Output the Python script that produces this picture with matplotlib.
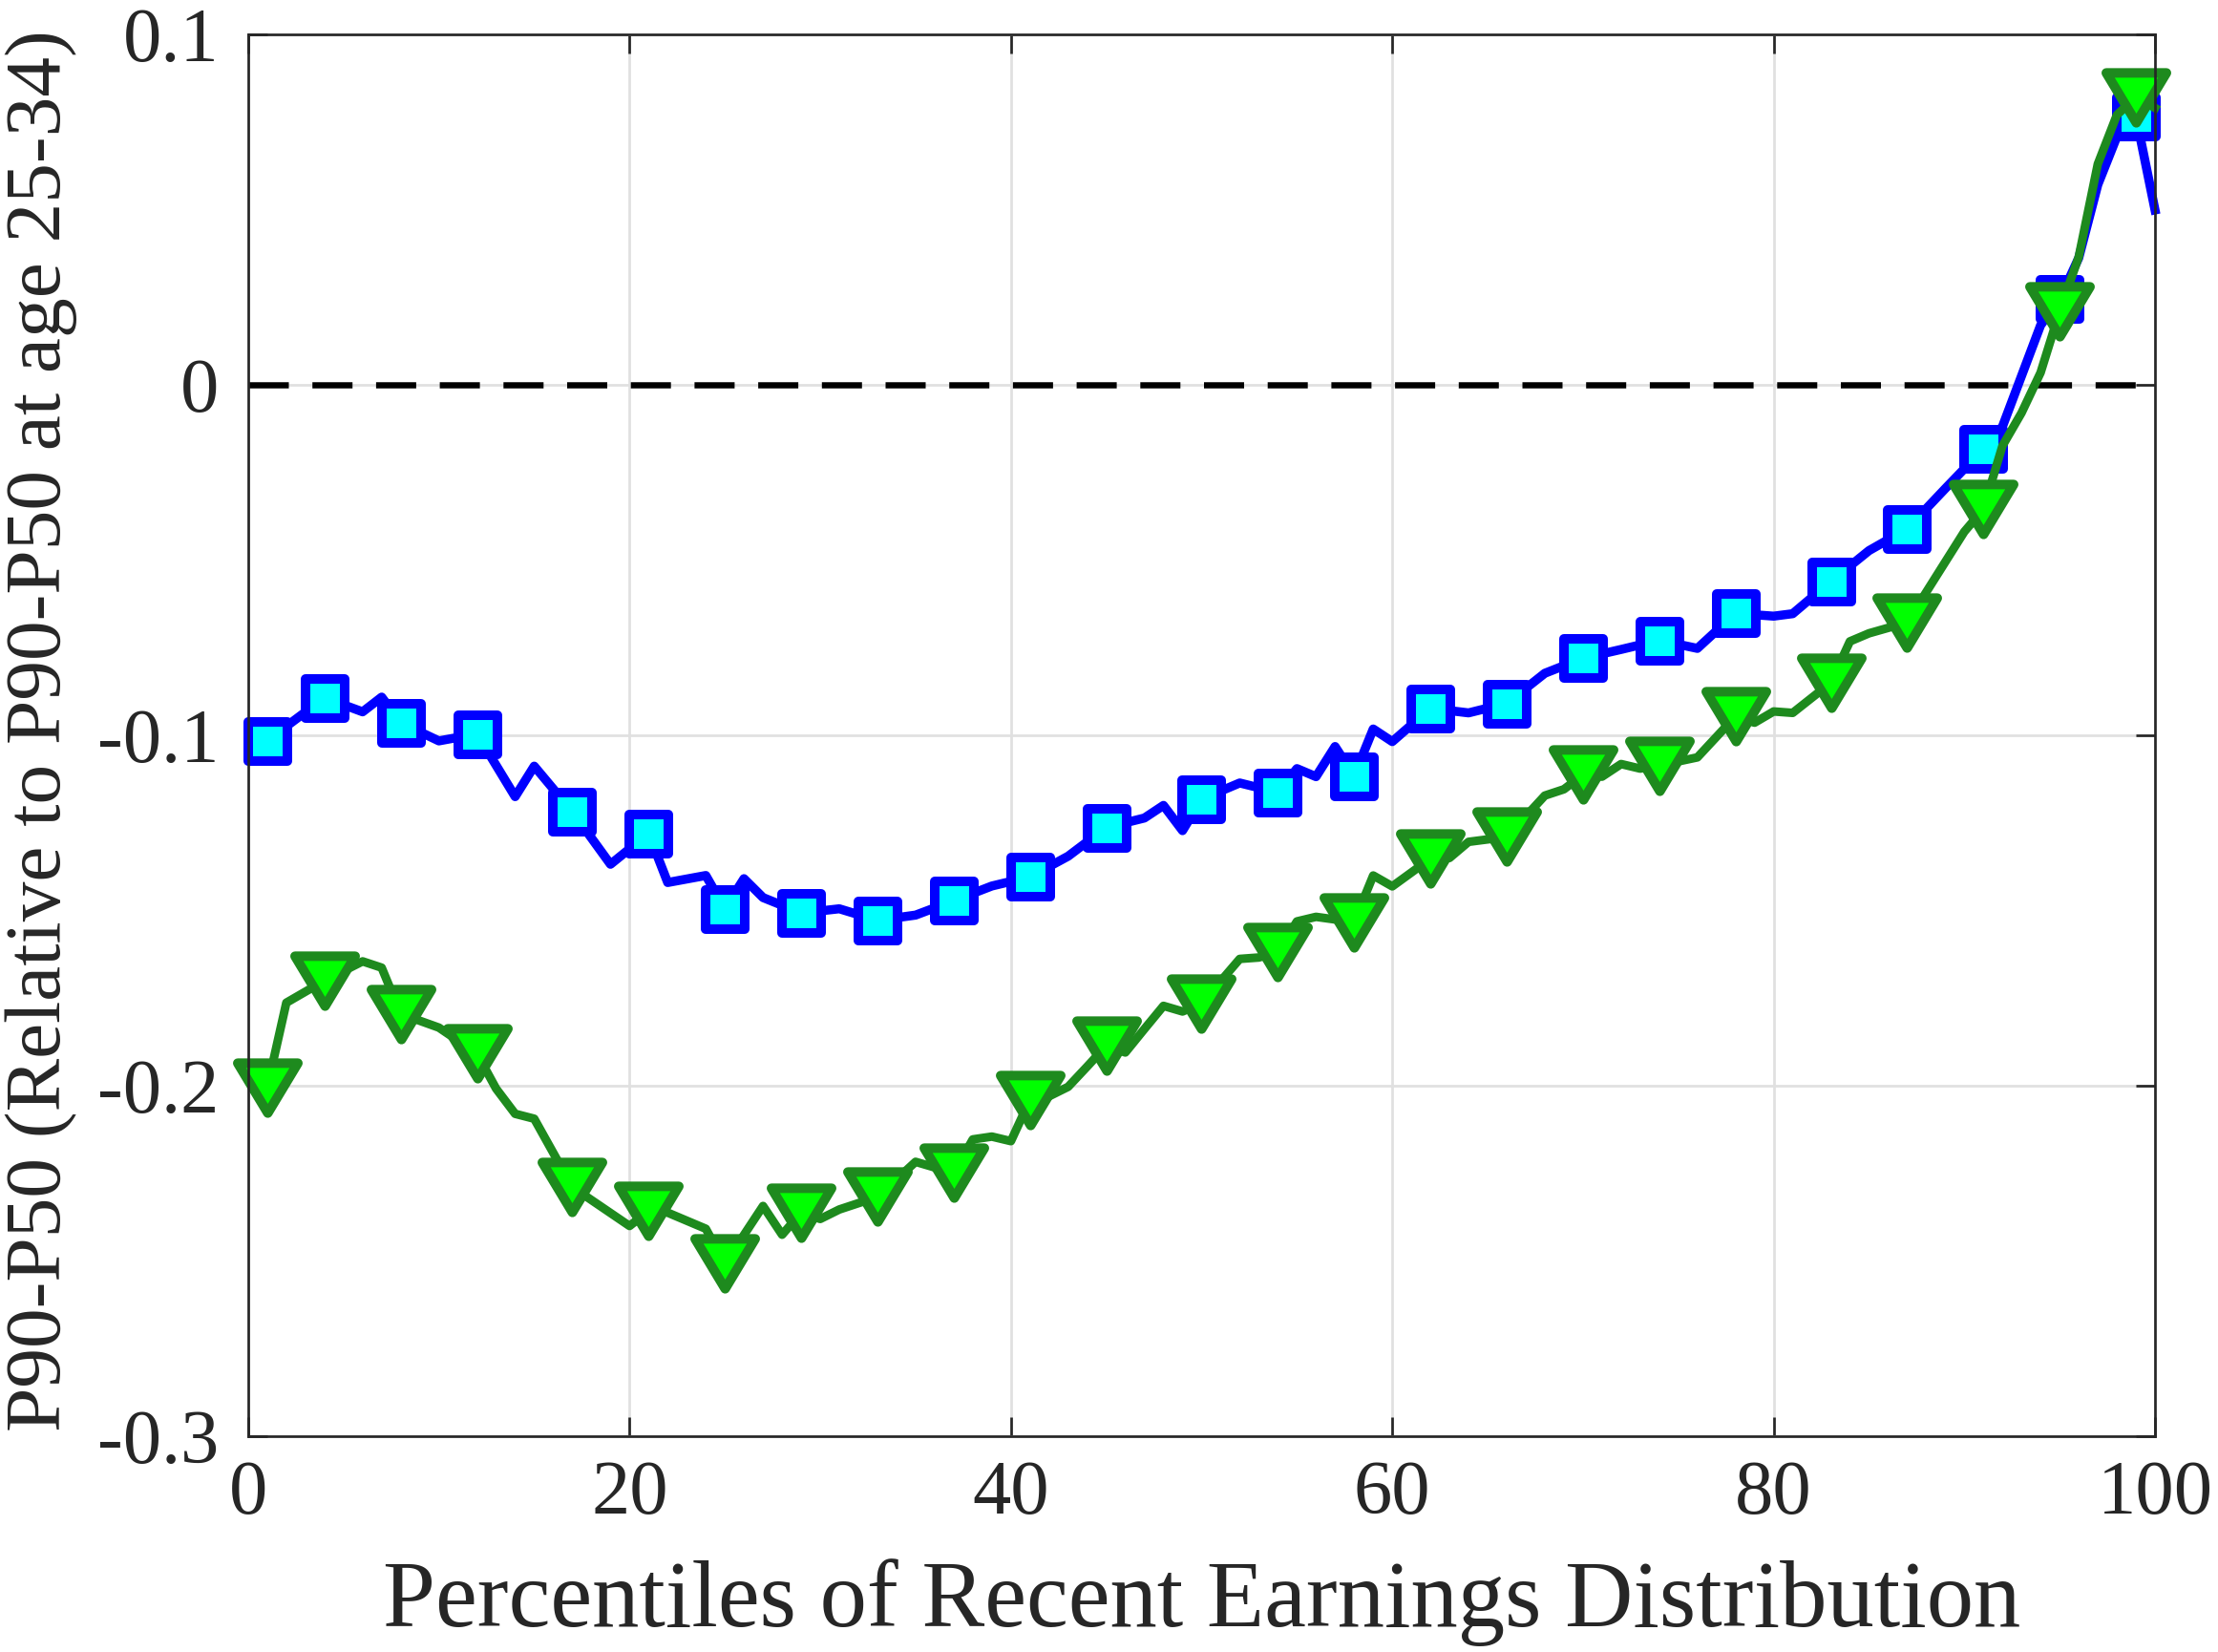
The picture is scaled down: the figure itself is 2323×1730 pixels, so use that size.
import matplotlib
matplotlib.use("Agg")
import matplotlib.pyplot as plt
from matplotlib.markers import MarkerStyle
from matplotlib.path import Path

# percentile positions where the lines bend
blue_x = [1, 4, 6, 7, 8, 10, 12, 14, 15, 17, 19, 21, 22, 24, 25, 26, 27, 29, 31,
          33, 35, 37, 39, 41, 43, 45, 47, 48, 49, 50, 52, 54, 55, 56, 57, 58, 59,
          60, 62, 64, 66, 68, 70, 72, 74, 76, 78, 80, 81, 83, 85, 87, 89, 91, 92,
          94, 95, 96, 97, 98, 99, 100]
blue_y = [-0.1015, -0.0893, -0.0933, -0.0891, -0.0964, -0.1016, -0.0996, -0.1175,
          -0.1088, -0.1218, -0.1368, -0.1280, -0.1420, -0.1400, -0.1495, -0.1409,
          -0.1463, -0.1507, -0.1495, -0.1528, -0.1513, -0.1472, -0.1430, -0.1404,
          -0.1345, -0.1263, -0.1236, -0.1200, -0.1272, -0.1182, -0.1136, -0.1163,
          -0.1095, -0.1118, -0.1032, -0.1116, -0.0982, -0.1018, -0.0923, -0.0936,
          -0.0909, -0.0823, -0.0780, -0.0755, -0.0729, -0.0752, -0.0652, -0.0660,
          -0.0653, -0.0561, -0.0473, -0.0411, -0.0296, -0.0183, -0.0119, 0.0170,
          0.0244, 0.0362, 0.0571, 0.0708, 0.0766, 0.0499]

green_x = [1, 2, 4, 6, 7, 8, 10, 12, 13, 14, 15, 17, 20, 21, 22, 24, 25, 27, 28,
           29, 30, 31, 33, 35, 37, 38, 39, 40, 41, 42, 43, 44, 45, 46, 47, 48, 49,
           50, 52, 53, 54, 55, 56, 58, 59, 60, 62, 63, 64, 66, 68, 69, 70, 71, 72,
           73, 74, 76, 78, 79, 80, 81, 83, 84, 85, 87, 90, 91, 92, 93, 94, 95, 96,
           97, 98, 99, 100]
green_y = [-0.2005, -0.1763, -0.1700, -0.1645, -0.1663, -0.1795, -0.1834, -0.1908,
           -0.2008, -0.2080, -0.2094, -0.2289, -0.2400, -0.2357, -0.2362, -0.2408,
           -0.2508, -0.2343, -0.2425, -0.2362, -0.2380, -0.2353, -0.2317, -0.2217,
           -0.2249, -0.2153, -0.2145, -0.2158, -0.2040, -0.2030, -0.2003, -0.1945,
           -0.1886, -0.1905, -0.1838, -0.1772, -0.1788, -0.1765, -0.1638, -0.1634,
           -0.1619, -0.1531, -0.1518, -0.1533, -0.1400, -0.1431, -0.1352, -0.1350,
           -0.1304, -0.1290, -0.1172, -0.1154, -0.1113, -0.1118, -0.1082, -0.1095,
           -0.1086, -0.1063, -0.0946, -0.0964, -0.0932, -0.0936, -0.0850, -0.0732,
           -0.0709, -0.0678, -0.0419, -0.0355, -0.0174, -0.0080, 0.0035, 0.0210,
           0.0365, 0.0630, 0.0770, 0.0821, 0.0790]

# percentiles that carry a marker
marker_x = [1, 4, 8, 12, 17, 21, 25, 29, 33, 37, 41, 45, 50, 54, 58, 62, 66, 70,
            74, 78, 83, 87, 91, 95, 99]

x_ticks = [0, 20, 40, 60, 80, 100]
y_ticks = [-0.3, -0.2, -0.1, 0, 0.1]
y_tick_labels = ["-0.3", "-0.2", "-0.1", "0", "0.1"]

plt.rcParams['font.family'] = ['Liberation Serif', 'DejaVu Serif']
plt.rcParams['axes.unicode_minus'] = False
plt.rcParams['lines.scale_dashes'] = False

PX = 0.72  # points per pixel at dpi 100
txt = '#262626'

fig = plt.figure(figsize=(23.23, 17.30), dpi=100)
ax = fig.add_axes([0.1119, 0.1306, 0.8597, 0.8486])

ax.plot([0, 100], [0, 0], color='black', lw=6.5 * PX,
        dashes=(42 * PX, 24.7 * PX), dash_capstyle='butt', zorder=2)

sq = MarkerStyle('s', joinstyle='round')
tri = MarkerStyle(Path([(-1, 0.83), (1, 0.83), (0, -0.83), (-1, 0.83)],
                       [Path.MOVETO, Path.LINETO, Path.LINETO, Path.CLOSEPOLY]),
                  joinstyle='round')

ax.plot(blue_x, blue_y, color='#0000ff', lw=9.5 * PX, solid_joinstyle='round',
        marker=sq, markersize=41 * PX, markeredgewidth=10 * PX,
        markerfacecolor='#00ffff', markeredgecolor='#0000ff',
        markevery=[blue_x.index(m) for m in marker_x], zorder=3, clip_on=False)
ax.plot(green_x, green_y, color='#1e8a1e', lw=9 * PX, solid_joinstyle='round',
        marker=tri, markersize=63 * PX, markeredgewidth=10 * PX,
        markerfacecolor='#00ff00', markeredgecolor='#1e8a1e',
        markevery=[green_x.index(m) for m in marker_x], zorder=4, clip_on=False)

ax.set_xlim(0, 100)
ax.set_ylim(-0.3, 0.1)
ax.set_xticks(x_ticks)
ax.set_yticks(y_ticks)
ax.set_yticklabels(y_tick_labels)

ax.grid(True, color='#e0e0e0', lw=2.7 * PX)
ax.set_axisbelow(True)
for s in ax.spines.values():
    s.set_linewidth(2.7 * PX)
    s.set_color(txt)
    s.set_zorder(5)
ax.tick_params(direction='in', length=20 * PX, width=2.7 * PX, colors=txt,
               labelsize=58, top=True, right=True)
ax.tick_params(axis='x', pad=18)
ax.tick_params(axis='y', pad=22)

ax.set_xlabel('Percentiles of Recent Earnings Distribution', fontsize=71,
              color=txt, labelpad=22)
ax.set_ylabel('P90-P50 (Relative to P90-P50 at age 25-34)', fontsize=60,
              color=txt)
ax.yaxis.set_label_coords(-0.0896, 0.503)

fig.savefig('out.png', dpi=100)
